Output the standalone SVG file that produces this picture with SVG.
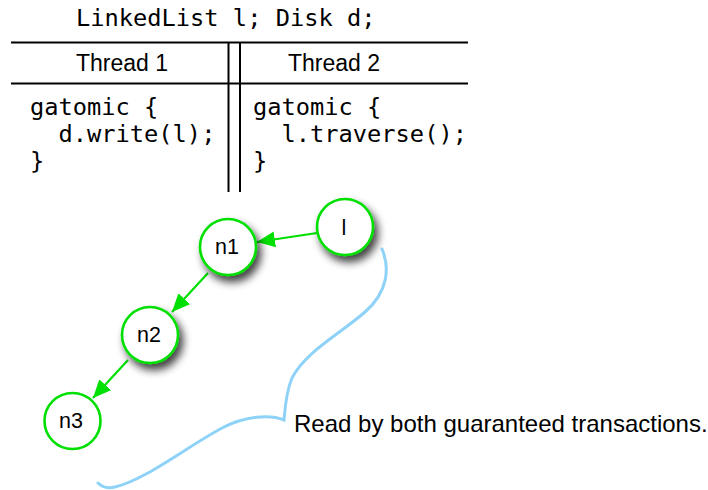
<svg xmlns="http://www.w3.org/2000/svg" width="708" height="490" viewBox="0 0 708 490">
<style>
.mono{font-family:"DejaVu Sans Mono","Liberation Mono",monospace;font-size:23.7px;fill:#000}
.sans{font-family:"Liberation Sans",Arial,sans-serif;fill:#000}
.rule{stroke:#000;stroke-width:2;fill:none}
.node circle{fill:#fff;stroke:#00e000;stroke-width:2.6}
.node text{font-family:"Liberation Sans",Arial,sans-serif;font-size:21.5px;text-anchor:middle;fill:#000}
.edge{stroke:#00e000;stroke-width:2.2;fill:none}
</style>
<defs>
<filter id="sh" x="-50%" y="-50%" width="200%" height="200%">
<feGaussianBlur in="SourceAlpha" stdDeviation="4"/>
<feOffset dx="4" dy="6" result="b"/>
<feComponentTransfer><feFuncA type="linear" slope="0.75"/></feComponentTransfer>
<feMerge><feMergeNode/><feMergeNode in="SourceGraphic"/></feMerge>
</filter>
<marker id="ah" markerUnits="userSpaceOnUse" markerWidth="20" markerHeight="16" refX="18" refY="8" orient="auto" viewBox="0 0 20 16">
<path d="M0,0 L18,8 L0,16 Z" fill="#00e000"/>
</marker>
</defs>
<rect width="708" height="490" fill="#fff"/>
<g id="table">
<text class="mono" x="76" y="26">LinkedList l; Disk d;</text>
<line class="rule" x1="11" y1="42.5" x2="468" y2="42.5"/>
<line class="rule" x1="11" y1="83.5" x2="468" y2="83.5"/>
<line class="rule" x1="228.5" y1="42" x2="228.5" y2="192"/>
<line class="rule" x1="240" y1="42" x2="240" y2="192"/>
<text class="sans" x="122" y="71" font-size="23" text-anchor="middle">Thread 1</text>
<text class="sans" x="334" y="71" font-size="23" text-anchor="middle">Thread 2</text>
<text class="mono" xml:space="preserve"><tspan x="30" y="115">gatomic {</tspan><tspan x="30" y="142">  d.write(l);</tspan><tspan x="30" y="169">}</tspan></text>
<text class="mono" xml:space="preserve"><tspan x="253" y="115">gatomic {</tspan><tspan x="253" y="142">  l.traverse();</tspan><tspan x="253" y="169">}</tspan></text>
</g>
<g id="connectors">
<line class="edge" x1="317" y1="233" x2="257" y2="242" marker-end="url(#ah)"/>
<line class="edge" x1="208" y1="273" x2="172" y2="312" marker-end="url(#ah)"/>
<line class="edge" x1="128" y1="360" x2="93" y2="398" marker-end="url(#ah)"/>
</g>
<g id="node-l" class="node"><circle cx="345" cy="227" r="28" filter="url(#sh)"/><text x="344" y="235">l</text></g>
<g id="node-n1" class="node"><circle cx="228" cy="247" r="28" filter="url(#sh)"/><text x="227" y="254">n1</text></g>
<g id="node-n2" class="node"><circle cx="150" cy="335" r="28" filter="url(#sh)"/><text x="149" y="342">n2</text></g>
<g id="node-n3" class="node"><circle cx="72.5" cy="421" r="28"/><text x="71" y="428">n3</text></g>
<g id="brace">
<path d="M382,249 C390,268 388,292 365,312 C340,334 305,352 292,378 C286,392 285,408 284,420 C270,414 245,416 222,428 C185,448 145,480 115,487 C107,489 101,486 98,483" fill="none" stroke="#8ed3f7" stroke-width="3" stroke-linecap="round"/>
<text class="sans" x="294" y="432" font-size="24">Read by both guaranteed transactions.</text>
</g>
</svg>
